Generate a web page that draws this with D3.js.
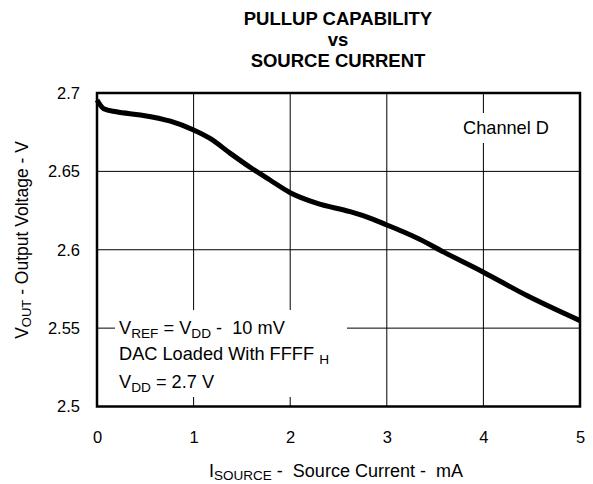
<!DOCTYPE html>
<html><head><meta charset="utf-8">
<script src="https://cdn.jsdelivr.net/npm/d3@7"></script>
<style>body{margin:0;background:#fff}svg{display:block}text{font-family:"Liberation Sans",Arial,sans-serif;fill:#000;white-space:pre}</style>
</head><body><svg id="c" width="593" height="484"></svg>
<script>
const currents = [0, 0.07, 0.2, 0.45, 0.76, 1.0, 1.17, 1.38, 1.6, 1.79, 2.0, 2.28, 2.62, 2.86, 3.0, 3.17, 3.34, 3.59, 4.0, 4.45, 5.0];
const voltages = [2.6955, 2.690, 2.688, 2.686, 2.682, 2.6764, 2.671, 2.6615, 2.652, 2.6445, 2.6364, 2.6296, 2.6243, 2.6194, 2.6158, 2.6115, 2.6067, 2.5985, 2.5857, 2.5708, 2.5548];
const xTicks = [0, 1, 2, 3, 4, 5];
const yTicks = [2.5, 2.55, 2.6, 2.65, 2.7];
const titleLines = ["PULLUP CAPABILITY", "vs", "SOURCE CURRENT"];

const svg = d3.select("#c");
const L = 97, R = 580, T = 93, B = 406.5;
const x = d3.scaleLinear().domain([0, 5]).range([L, R]);
const y = d3.scaleLinear().domain([2.5, 2.7]).range([B, T]);

// title
svg.append("g").selectAll("text").data(titleLines).join("text")
  .attr("x", 338).attr("y", (d, i) => 25 + i * 21)
  .attr("text-anchor", "middle").attr("font-weight", "bold").attr("font-size", 18.5)
  .text(d => d);

// grid
const grid = svg.append("g").attr("stroke", "#000").attr("stroke-width", 1);
grid.selectAll(".vx").data(xTicks.slice(1, -1)).join("line")
  .attr("x1", d => x(d)).attr("x2", d => x(d)).attr("y1", T).attr("y2", B);
grid.selectAll(".hy").data(yTicks.slice(1, -1)).join("line")
  .attr("y1", d => y(d)).attr("y2", d => y(d)).attr("x1", L).attr("x2", R);

// axes (labels only)
const yAxis = svg.append("g").attr("transform", `translate(${L},0)`)
  .call(d3.axisLeft(y).tickValues(yTicks).tickSize(0).tickPadding(17).tickFormat(d3.format("")));
yAxis.select(".domain").remove();
yAxis.selectAll("text").attr("font-size", 16.5).attr("font-family", "Liberation Sans, Arial, sans-serif");
const xAxis = svg.append("g").attr("transform", `translate(0,${B})`)
  .call(d3.axisBottom(x).tickValues(xTicks).tickSize(0).tickPadding(25).tickFormat(d3.format("d")));
xAxis.select(".domain").remove();
xAxis.selectAll("text").attr("font-size", 16.5).attr("font-family", "Liberation Sans, Arial, sans-serif");

// annotation boxes
svg.append("rect").attr("x", 115).attr("y", 310).attr("width", 232).attr("height", 87).attr("fill", "#fff");
svg.append("rect").attr("x", 456).attr("y", 113).attr("width", 100).attr("height", 30).attr("fill", "#fff");

const fs = 18.2;
let t1 = svg.append("text").attr("x", 119).attr("y", 334).attr("font-size", fs);
t1.append("tspan").text("V");
t1.append("tspan").attr("font-size", fs * 0.75).attr("dy", 4).text("REF");
t1.append("tspan").attr("dy", -4).text(" = V");
t1.append("tspan").attr("font-size", fs * 0.75).attr("dy", 4).text("DD");
t1.append("tspan").attr("dy", -4).text(" -  10 mV");
let t2 = svg.append("text").attr("x", 119).attr("y", 360).attr("font-size", fs);
t2.append("tspan").text("DAC Loaded With FFFF ");
t2.append("tspan").attr("font-size", fs * 0.75).attr("dy", 4).text("H");
let t3 = svg.append("text").attr("x", 119).attr("y", 388).attr("font-size", fs);
t3.append("tspan").text("V");
t3.append("tspan").attr("font-size", fs * 0.75).attr("dy", 4).text("DD");
t3.append("tspan").attr("dy", -4).text(" = 2.7 V");

svg.append("text").attr("x", 506).attr("y", 134).attr("text-anchor", "middle").attr("font-size", fs).text("Channel D");

// curve
svg.append("path").datum(currents.map((c, i) => [c, voltages[i]]))
  .attr("fill", "none").attr("stroke", "#000").attr("stroke-width", 5).attr("stroke-linejoin", "round")
  .attr("d", d3.line().x(d => x(d[0])).y(d => y(d[1])).curve(d3.curveMonotoneX));

// frame
svg.append("rect").attr("x", L).attr("y", T).attr("width", R - L).attr("height", B - T)
  .attr("fill", "none").attr("stroke", "#000").attr("stroke-width", 2.5);

// axis titles
let xt = svg.append("text").attr("x", 336).attr("y", 477).attr("text-anchor", "middle").attr("font-size", 18);
xt.append("tspan").text("I");
xt.append("tspan").attr("font-size", 13.5).attr("dy", 3).text("SOURCE");
xt.append("tspan").attr("dy", -3).text(" -  Source Current -  mA");

let yt = svg.append("text").attr("transform", "translate(28,240) rotate(-90)").attr("text-anchor", "middle").attr("font-size", 17.5);
yt.append("tspan").text("V");
yt.append("tspan").attr("font-size", 13).attr("dy", 3).text("OUT");
yt.append("tspan").attr("dy", -3).text(" - Output Voltage - V");
</script></body></html>
